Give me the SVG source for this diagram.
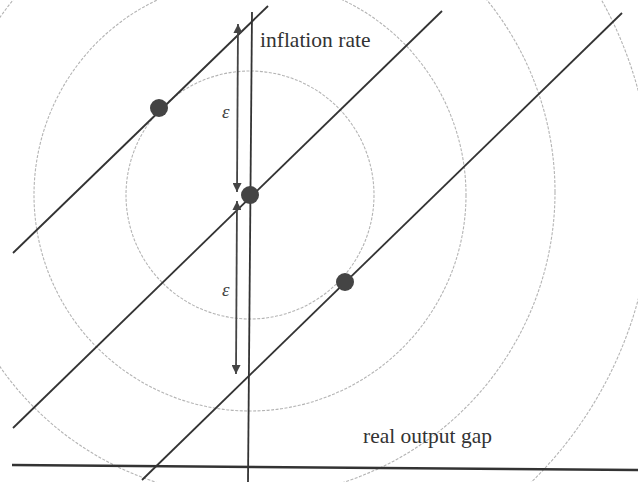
<svg xmlns="http://www.w3.org/2000/svg" width="638" height="482" viewBox="0 0 638 482">
<style>
.circ{fill:none;stroke:#b4b4b4;stroke-width:1.1;stroke-dasharray:3 1.5}
.ln{stroke:#333;stroke-width:1.8;fill:none}
.ax{stroke:#333;stroke-width:2.4;fill:none}
.arr{stroke:#444;stroke-width:1.8;fill:none;marker-start:url(#ah);marker-end:url(#ah)}
.dot{fill:#444}
.lbl{font-family:"Liberation Serif","Times New Roman",serif;fill:#333}
.eps{font-family:"Liberation Serif","Times New Roman",serif;font-size:19px;font-style:italic;fill:#444}
</style>
<defs>
<marker id="ah" viewBox="0 0 10 10" refX="10" refY="5" markerWidth="12" markerHeight="9" markerUnits="userSpaceOnUse" orient="auto-start-reverse">
<path d="M0,0 L10,5 L0,10 z" fill="#444"/>
</marker>
</defs>
<rect width="638" height="482" fill="#fff"/>
<g id="circles">
<circle class="circ" cx="250" cy="195" r="124"/>
<circle class="circ" cx="250" cy="195" r="216"/>
<circle class="circ" cx="250" cy="192" r="305"/>
<circle class="circ" cx="250" cy="195" r="402"/>
</g>
<g id="connectors">
<line id="axis-x" class="ax" x1="12" y1="465" x2="638" y2="470"/>
<line id="axis-y" class="ln" x1="252" y1="12" x2="248" y2="482"/>
<line id="line-1" class="ln" x1="13" y1="253" x2="268" y2="6"/>
<line id="line-2" class="ln" x1="13" y1="428" x2="442" y2="11"/>
<line id="line-3" class="ln" x1="142" y1="480" x2="622" y2="13"/>
<line id="arrow-up" class="arr" x1="238" y1="24" x2="237" y2="192"/>
<line id="arrow-down" class="arr" x1="237" y1="201" x2="236" y2="374"/>
</g>
<g id="dot-left"><circle class="dot" cx="159" cy="108" r="9"/></g>
<g id="dot-center"><circle class="dot" cx="250" cy="195" r="9"/></g>
<g id="dot-right"><circle class="dot" cx="345" cy="282" r="9"/></g>
<g id="labels">
<text class="lbl" x="260" y="47" font-size="21.5">inflation rate</text>
<text class="lbl" x="363" y="443" font-size="21.5">real output gap</text>
<text class="eps" x="222" y="118">ε</text>
<text class="eps" x="222" y="296">ε</text>
</g>
</svg>
